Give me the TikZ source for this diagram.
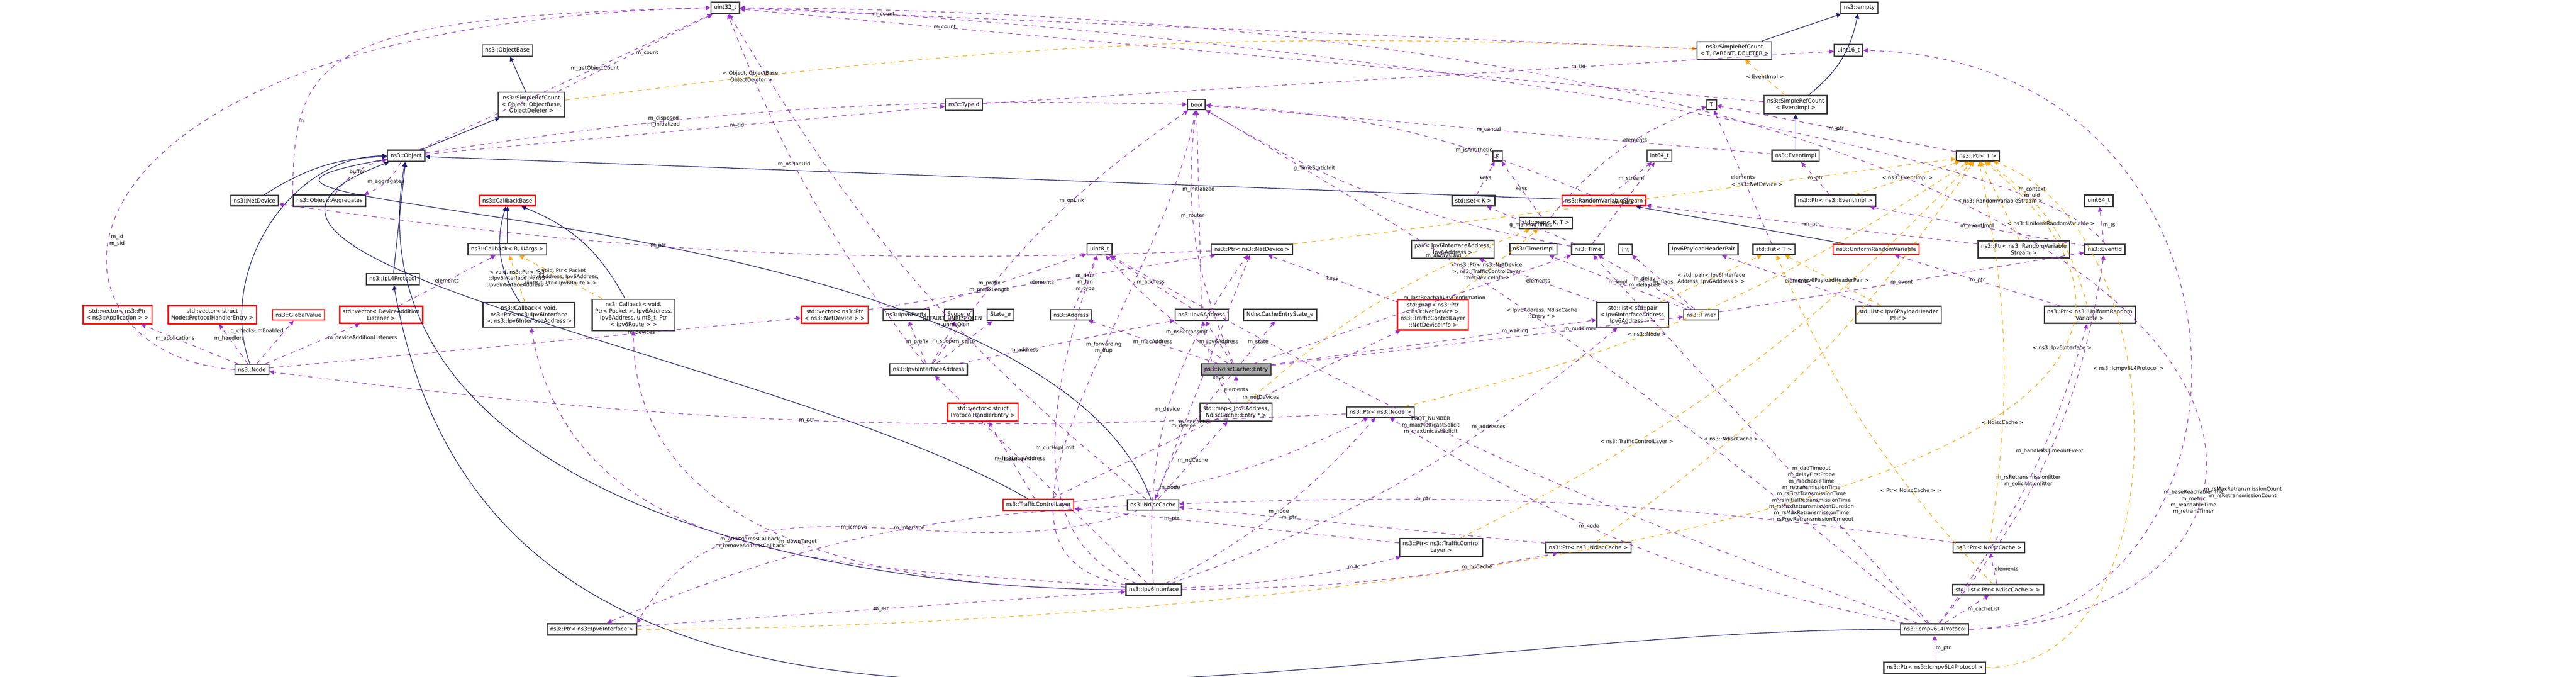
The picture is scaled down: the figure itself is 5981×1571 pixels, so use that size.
\documentclass[tikz,border=0pt]{standalone}
\usepackage{fontspec}
\setmainfont{DejaVu Sans}
\usetikzlibrary{arrows.meta, positioning}
\definecolor{inh}{HTML}{191970}
\definecolor{mem}{HTML}{9A32CD}
\definecolor{tpl}{HTML}{FFA500}
\definecolor{incomplete}{HTML}{FF0000}
\tikzset{
  cls/.style={draw=black!75, fill=white, thick, inner sep=2pt, align=center,
    font=\fontsize{3.6}{4.4}\selectfont},
  redcls/.style={cls, draw=incomplete},
  gray/.style={cls, fill=black!35},
  inherit/.style={draw=inh, thin, -{Triangle[length=3pt,width=3pt]}},
  member/.style={draw=mem, dashed, thin, -{Triangle[length=3pt,width=3pt]}},
  tmpl/.style={draw=tpl, dashed, thin, -{Triangle[length=3pt,width=3pt]}},
  lbl/.style={font=\fontsize{3.4}{4.2}\selectfont, text=black, align=center, inner sep=0.5pt}
}
\begin{document}
\begin{tikzpicture}[x=0.01cm, y=-0.01cm]
  \useasboundingbox (0,0) rectangle (5981,1571);
  % top rows
  \node[cls] (u32) at (1684,18) {uint32\_t};
  \node[cls] (empty) at (4317,18) {ns3::empty};
  \node[cls] (objbase) at (1178,117) {ns3::ObjectBase};
  \node[cls] (srctpd) at (4027,117) {ns3::SimpleRefCount\\ < T, PARENT, DELETER >};
  \node[cls] (u16) at (4292,117) {uint16\_t};
  \node[cls] (srcobj) at (1234,243) {ns3::SimpleRefCount\\ < Object, ObjectBase,\\ ObjectDeleter >};
  \node[cls] (typeid) at (2238,243) {ns3::TypeId};
  \node[cls] (boolt) at (2778,243) {bool};
  \node[cls] (tT) at (3974,243) {T};
  \node[cls] (srcev) at (4169,243) {ns3::SimpleRefCount\\ < EventImpl >};
  \node[cls] (obj) at (943,362) {ns3::Object};
  \node[cls] (tK) at (3477,362) {K};
  \node[cls] (i64) at (3853,362) {int64\_t};
  \node[cls] (evimpl) at (4169,362) {ns3::EventImpl};
  \node[cls] (ptrT) at (4592,362) {ns3::Ptr< T >};
  \node[cls] (netdev) at (591,466) {ns3::NetDevice};
  \node[cls] (aggr) at (765,466) {ns3::Object::Aggregates};
  \node[redcls] (cbbase) at (1178,466) {ns3::CallbackBase};
  \node[cls] (setK) at (3421,466) {std::set< K >};
  \node[redcls] (rvs) at (3724,466) {ns3::RandomVariableStream};
  \node[cls] (ptrev) at (4261,466) {ns3::Ptr< ns3::EventImpl >};
  \node[cls] (u64) at (4873,466) {uint64\_t};
  \node[cls] (mapKT) at (3589,518) {std::map< K, T >};
  \node[cls] (cbR) at (1178,579) {ns3::Callback< R, UArgs >};
  \node[cls] (u8) at (2553,579) {uint8\_t};
  \node[cls] (ptrnd) at (2907,579) {ns3::Ptr< ns3::NetDevice >};
  \node[cls] (pairia) at (3373,579) {pair< Ipv6InterfaceAddress,\\ Ipv6Address >};
  \node[cls] (timerimpl) at (3560,579) {ns3::TimerImpl};
  \node[cls] (timet) at (3687,579) {ns3::Time};
  \node[cls] (intn) at (3774,579) {int};
  \node[cls] (plhp) at (3955,579) {Ipv6PayloadHeaderPair};
  \node[cls] (listT) at (4119,579) {std::list< T >};
  \node[redcls] (urv) at (4356,579) {ns3::UniformRandomVariable};
  \node[cls] (ptrrvs) at (4699,579) {ns3::Ptr< ns3::RandomVariable\\ Stream >};
  \node[cls] (evid) at (4887,579) {ns3::EventId};
  \node[cls] (ipl4) at (912,648) {ns3::IpL4Protocol};
  % row of containers and enums
  \node[redcls] (vapp) at (273,731) {std::vector< ns3::Ptr\\ < ns3::Application > >};
  \node[redcls] (vphe) at (493,731) {std::vector< struct\\ Node::ProtocolHandlerEntry >};
  \node[redcls] (gval) at (693,731) {ns3::GlobalValue};
  \node[redcls] (vdal) at (885,731) {std::vector< DeviceAddition\\ Listener >};
  \node[cls] (cbif) at (1228,731) {ns3::Callback< void,\\ ns3::Ptr< ns3::Ipv6Interface\\ >, ns3::Ipv6InterfaceAddress >};
  \node[cls] (cbpk) at (1471,731) {ns3::Callback< void,\\ Ptr< Packet >, Ipv6Address,\\ Ipv6Address, uint8\_t, Ptr\\ < Ipv6Route > >};
  \node[redcls] (vnd) at (1938,731) {std::vector< ns3::Ptr\\ < ns3::NetDevice > >};
  \node[cls] (prefix) at (2104,731) {ns3::Ipv6Prefix};
  \node[cls] (scope) at (2226,731) {Scope\_e};
  \node[cls] (state) at (2323,731) {State\_e};
  \node[cls] (addr) at (2487,731) {ns3::Address};
  \node[cls] (ip6addr) at (2790,731) {ns3::Ipv6Address};
  \node[cls] (entstate) at (2972,731) {NdiscCacheEntryState\_e};
  \node[redcls] (mapnd) at (3327,731) {std::map< ns3::Ptr\\ < ns3::NetDevice >,\\ ns3::TrafficControlLayer\\ ::NetDeviceInfo >};
  \node[cls] (listpair) at (3791,731) {std::list< std::pair\\ < Ipv6InterfaceAddress,\\ Ipv6Address > >};
  \node[cls] (timer) at (3950,731) {ns3::Timer};
  \node[cls] (listplhp) at (4408,731) {std::list< Ipv6PayloadHeader\\ Pair >};
  \node[cls] (ptrurv) at (4852,731) {ns3::Ptr< ns3::UniformRandom\\ Variable >};
  % lower part
  \node[cls] (node) at (585,858) {ns3::Node};
  \node[cls] (ifaddr) at (2156,858) {ns3::Ipv6InterfaceAddress};
  \node[gray] (entry) at (2870,858) {ns3::NdiscCache::Entry};
  \node[redcls] (vphe2) at (2282,957) {std::vector< struct\\ ProtocolHandlerEntry >};
  \node[cls] (mapent) at (2870,957) {std::map< Ipv6Address,\\ NdiscCache::Entry * >};
  \node[cls] (ptrnode) at (3205,957) {ns3::Ptr< ns3::Node >};
  \node[redcls] (tcl) at (2411,1172) {ns3::TrafficControlLayer};
  \node[cls] (ndc) at (2677,1172) {ns3::NdiscCache};
  \node[cls] (ptrtcl) at (3346,1271) {ns3::Ptr< ns3::TrafficControl\\ Layer >};
  \node[cls] (ptrndc) at (3688,1271) {ns3::Ptr< ns3::NdiscCache >};
  \node[cls] (ptrndc2) at (4618,1271) {ns3::Ptr< NdiscCache >};
  \node[cls] (ipif) at (2679,1369) {ns3::Ipv6Interface};
  \node[cls] (listndc) at (4639,1369) {std::list< Ptr< NdiscCache > >};
  \node[cls] (ptrif) at (1374,1461) {ns3::Ptr< ns3::Ipv6Interface >};
  \node[cls] (icmp) at (4492,1461) {ns3::Icmpv6L4Protocol};
  \node[cls] (ptricmp) at (4492,1550) {ns3::Ptr< ns3::Icmpv6L4Protocol >};

  % inheritance
  \draw[inherit] (srcobj) -- (objbase);
  \draw[inherit] (obj) -- (srcobj);
  \draw[inherit] (netdev) to[bend left=15] (obj);
  \draw[inherit] (ipl4) -- (obj);
  \draw[inherit] (node) to[out=110, in=180] (obj);
  \draw[inherit] (tcl) to[out=150, in=200] (obj);
  \draw[inherit] (ndc) to[out=110, in=190] (obj);
  \draw[inherit] (ipif) to[out=180, in=260] (obj);
  \draw[inherit] (icmp) to[out=180, in=280] (ipl4);
  \draw[inherit] (rvs) -- (obj);
  \draw[inherit] (urv) -- (rvs);
  \draw[inherit] (srctpd) -- (empty);
  \draw[inherit] (srcev) to[bend right=20] (empty);
  \draw[inherit] (evimpl) -- (srcev);
  \draw[inherit] (cbR) -- (cbbase);
  \draw[inherit] (cbif) to[bend left=25] (cbbase);
  \draw[inherit] (cbpk) to[bend right=20] (cbbase);

  % template instances
  \draw[tmpl] (srcobj) to[bend left=5] node[lbl, pos=0.15] {< Object, ObjectBase,\\ ObjectDeleter >} (srctpd);
  \draw[tmpl] (srcev) -- node[lbl] {< EventImpl >} (srctpd);
  \draw[tmpl] (cbif) -- node[lbl] {< void, ns3::Ptr< ns3\\ ::Ipv6Interface >, ns3\\ ::Ipv6InterfaceAddress >} (cbR);
  \draw[tmpl] (cbpk) -- node[lbl] {< void, Ptr< Packet\\ >, Ipv6Address, Ipv6Address,\\ uint8\_t, Ptr< Ipv6Route > >} (cbR);
  \draw[tmpl] (ptrev) -- node[lbl] {< ns3::EventImpl >} (ptrT);
  \draw[tmpl] (ptrnd) -- node[lbl, pos=0.7] {< ns3::NetDevice >} (ptrT);
  \draw[tmpl] (ptrrvs) -- node[lbl] {< ns3::RandomVariableStream >} (ptrT);
  \draw[tmpl] (ptrurv) to[bend right=20] node[lbl] {< ns3::UniformRandomVariable >} (ptrT);
  \draw[tmpl] (ptrnode) to[bend right=10] node[lbl, pos=0.4] {< ns3::Node >} (ptrT);
  \draw[tmpl] (ptrtcl) to[bend right=10] node[lbl, pos=0.3] {< ns3::TrafficControlLayer >} (ptrT);
  \draw[tmpl] (ptrndc) to[bend right=10] node[lbl, pos=0.3] {< ns3::NdiscCache >} (ptrT);
  \draw[tmpl] (ptrndc2) to[bend right=10] node[lbl, pos=0.3] {< NdiscCache >} (ptrT);
  \draw[tmpl] (ptrif) to[out=0, in=-40] node[lbl, pos=0.8] {< ns3::Ipv6Interface >} (ptrT);
  \draw[tmpl] (ptricmp) to[out=0, in=-20] node[lbl, pos=0.6] {< ns3::Icmpv6L4Protocol >} (ptrT);
  \draw[tmpl] (mapnd) -- node[lbl, pos=0.4] {< ns3::Ptr< ns3::NetDevice\\ >, ns3::TrafficControlLayer\\ ::NetDeviceInfo >} (mapKT);
  \draw[tmpl] (mapent) to[bend left=10] (mapKT);
  \draw[tmpl] (listpair) -- node[lbl] {< std::pair< Ipv6Interface\\ Address, Ipv6Address > >} (listT);
  \draw[tmpl] (listplhp) -- node[lbl] {< Ipv6PayloadHeaderPair >} (listT);
  \draw[tmpl] (listndc) to[bend left=10] node[lbl, pos=0.3] {< Ptr< NdiscCache > >} (listT);
  \node[lbl] at (3580,728) {< Ipv6Address, NdiscCache\\ ::Entry * >};

  % members of Object and friends
  \draw[member] (srcobj) -- node[lbl, right] {m\_count} (u32);
  \draw[member] (obj) -- node[lbl, pos=0.6] {m\_getObjectCount} (u32);
  \draw[member] (obj) -- node[lbl, pos=0.6] {m\_tid} (typeid);
  \draw[member] (obj) to[bend left=5] node[lbl, pos=0.3] {m\_disposed\\ m\_initialized} (boolt);
  \draw[member] (obj) to[bend left=20] node[lbl] {m\_aggregates} (aggr);
  \draw[member] (aggr) to[bend left=20] node[lbl] {buffer} (obj);
  \draw[member] (aggr.north west) .. controls (680,120) and (760,40) .. node[lbl, pos=0.2, right] {n} (u32.west);
  \draw[member] (typeid) -- node[lbl, pos=0.7] {m\_tid} (u16);
  % members of Node
  \draw[member] (node.west) .. controls (40,820) and (40,60) .. node[lbl, pos=0.4, right] {m\_id\\ m\_sid} (u32.west);
  \draw[member] (node) -- node[lbl, pos=0.65] {m\_applications} (vapp);
  \draw[member] (node) -- node[lbl, pos=0.65] {m\_handlers} (vphe);
  \draw[member] (node) -- node[lbl, pos=0.75, left] {g\_checksumEnabled} (gval);
  \draw[member] (node) -- node[lbl, pos=0.65, right] {m\_deviceAdditionListeners} (vdal);
  \draw[member] (node) -- node[lbl, pos=0.7] {m\_devices} (vnd);
  \draw[member] (vdal) -- node[lbl] {elements} (cbR);
  \draw[member] (vnd) -- node[lbl] {elements} (ptrnd);
  \draw[member] (ptrnd) to[bend left=5] node[lbl, pos=0.6] {m\_ptr} (netdev);
  % Ipv6InterfaceAddress, addresses
  \draw[member] (ifaddr) -- node[lbl] {m\_prefix} (prefix);
  \draw[member] (ifaddr) -- node[lbl] {m\_scope} (scope);
  \draw[member] (ifaddr) -- node[lbl] {m\_state} (state);
  \draw[member] (ifaddr) -- node[lbl, pos=0.3] {m\_address} (ip6addr);
  \draw[member] (ifaddr) to[bend left=10] node[lbl, pos=0.6] {m\_onLink} (boolt);
  \draw[member] (ifaddr) to[bend left=8] node[lbl, pos=0.6] {m\_nsDadUid} (u32);
  \draw[member] (prefix) -- node[lbl, pos=0.4] {m\_prefix\\ m\_prefixLength} (u8);
  \draw[member] (addr) -- node[lbl] {m\_data\\ m\_len\\ m\_type} (u8);
  \draw[member] (ip6addr) -- node[lbl] {m\_address} (u8);
  \draw[member] (ip6addr) -- node[lbl, pos=0.6] {m\_initialized} (boolt);
  % NdiscCache and entries
  \draw[member] (entry) -- node[lbl] {m\_ipv6Address} (ip6addr);
  \draw[member] (entry) -- node[lbl] {m\_macAddress} (addr);
  \draw[member] (entry) -- node[lbl] {m\_state} (entstate);
  \draw[member] (entry) to[bend left=15] node[lbl, pos=0.6] {m\_router} (boolt);
  \draw[member] (entry) to[bend left=5] node[lbl, pos=0.3] {m\_nsRetransmit} (u8);
  \draw[member] (entry) -- node[lbl, pos=0.6] {m\_lastReachabilityConfirmation} (timet);
  \draw[member] (entry) -- node[lbl, pos=0.75] {m\_nudTimer} (timer);
  \draw[member] (entry) -- node[lbl, pos=0.75] {m\_waiting} (listpair);
  \draw[member] (entry) to[bend right=10] node[lbl, pos=0.4] {m\_ndCache} (ndc);
  \draw[member] (mapent) -- node[lbl] {elements} (entry);
  \draw[member] (mapent) to[bend left=10] node[lbl, pos=0.3] {keys} (ip6addr);
  \draw[member] (ndc) -- node[lbl] {m\_ndCache} (mapent);
  \draw[member] (ndc) -- node[lbl, pos=0.3] {m\_device} (ptrnd);
  \draw[member] (ndc) to[bend right=10] node[lbl, pos=0.4] {m\_interface} (ptrif);
  \draw[member] (ndc) to[bend left=10] node[lbl, pos=0.4] {DEFAULT\_UNRES\_QLEN\\ m\_unresQlen} (u32);
  \draw[member] (mapnd) -- node[lbl] {keys} (ptrnd);
  \draw[member] (tcl) -- node[lbl] {m\_handlers} (vphe2);
  \draw[member] (tcl) -- node[lbl, pos=0.6] {m\_netDevices} (mapnd);
  % Ipv6Interface
  \draw[member] (ipif) -- node[lbl, pos=0.6] {m\_linkLocalAddress} (ifaddr);
  \draw[member] (ipif) to[out=170, in=260] node[lbl, pos=0.6] {m\_forwarding\\ m\_ifup} (boolt);
  \draw[member] (ipif) to[out=160, in=250] node[lbl, pos=0.5] {m\_curHopLimit} (u8);
  \draw[member] (ipif) to[out=180, in=270] node[lbl, pos=0.5] {m\_downTarget} (cbpk);
  \draw[member] (ipif) to[out=175, in=280] node[lbl, pos=0.5] {m\_addAddressCallback\\ m\_removeAddressCallback} (cbif);
  \draw[member] (ipif) to[bend right=10] node[lbl, pos=0.5] {m\_node} (ptrnode);
  \draw[member] (ipif) to[bend left=20] node[lbl, pos=0.5] {m\_device} (ptrnd);
  \draw[member] (ipif) to[bend right=5] node[lbl, pos=0.8] {m\_tc} (ptrtcl);
  \draw[member] (ipif) to[bend right=5] node[lbl, pos=0.8] {m\_ndCache} (ptrndc);
  \draw[member] (ipif) to[bend right=10] node[lbl, pos=0.7] {m\_addresses} (listpair);
  \draw[member] (ptrif) -- node[lbl] {m\_ptr} (ipif);
  \draw[member] (ptrnode) to[bend left=5] node[lbl, pos=0.5] {m\_ptr} (node);
  \draw[member] (ptrtcl) -- node[lbl, pos=0.7] {m\_ptr} (tcl);
  \draw[member] (ptrndc) -- node[lbl, pos=0.7] {m\_ptr} (ndc);
  \draw[member] (ptrndc2) to[bend right=5] node[lbl, pos=0.7] {m\_ptr} (ndc);
  \draw[member] (ndc) to[out=200, in=60] node[lbl, pos=0.5] {m\_icmpv6} (ptrif.north east);
  \draw[member] (tcl) to[bend right=10] node[lbl, pos=0.3] {m\_node} (ptrnode);
  % Icmpv6L4Protocol
  \draw[member] (ptricmp) -- node[lbl, right] {m\_ptr} (icmp);
  \draw[member] (icmp) -- node[lbl, right] {m\_cacheList} (listndc);
  \draw[member] (listndc) -- node[lbl, right] {elements} (ptrndc2);
  \draw[member] (icmp) to[bend left=10] node[lbl, pos=0.6] {m\_node} (ptrnode);
  \draw[member] (icmp) to[bend left=5] node[lbl, pos=0.6] {PROT\_NUMBER\\ m\_maxMulticastSolicit\\ m\_maxUnicastSolicit} (u8);
  \draw[member] (icmp) -- node[lbl, pos=0.35] {m\_dadTimeout\\ m\_delayFirstProbe\\ m\_reachableTime\\ m\_retransmissionTime\\ m\_rsFirstTransmissionTime\\ m\_rsInitialRetransmissionTime\\ m\_rsMaxRetransmissionDuration\\ m\_rsMaxRetransmissionTime\\ m\_rsPrevRetransmissionTimeout} (timet);
  \draw[member] (icmp) to[bend right=5] node[lbl, pos=0.7] {m\_alwaysDad} (boolt);
  \draw[member] (icmp) to[bend right=10] node[lbl, pos=0.5] {m\_rsRetransmissionJitter\\ m\_solicitationJitter} (ptrurv);
  \draw[member] (icmp) to[bend right=15] node[lbl, pos=0.5] {m\_handleRsTimeoutEvent} (evid);
  \draw[member] (icmp.east) .. controls (5296,1440) and (5296,140) .. node[lbl, pos=0.3, right] {m\_baseReachableTime\\ m\_metric\\ m\_reachableTime\\ m\_retransTimer} (u16.east);
  \draw[member] (icmp.east) .. controls (5556,1440) and (5556,40) .. node[lbl, pos=0.3, right] {m\_rsMaxRetransmissionCount\\ m\_rsRetransmissionCount} (u32.east);
  % time, timer, events, random variables
  \draw[member] (timet) -- node[lbl] {m\_data} (i64);
  \draw[member] (timet) -- node[lbl] {g\_markingTimes} (setK);
  \draw[member] (timet) to[bend left=10] node[lbl, pos=0.7] {g\_TimeStaticInit} (boolt);
  \draw[member] (setK) -- node[lbl] {keys} (tK);
  \draw[member] (mapKT) -- node[lbl] {keys} (tK);
  \draw[member] (mapKT) to[bend left=15] node[lbl, pos=0.6] {elements} (tT);
  \draw[member] (listT) -- node[lbl] {elements} (tT);
  \draw[member] (ptrT) -- node[lbl] {m\_ptr} (tT);
  \draw[member] (rvs) -- node[lbl] {m\_stream} (i64);
  \draw[member] (rvs) to[bend right=10] node[lbl, pos=0.3] {m\_isAntithetic} (boolt);
  \draw[member] (ptrrvs) -- node[lbl] {m\_ptr} (rvs);
  \draw[member] (ptrurv) -- node[lbl] {m\_ptr} (urv);
  \draw[member] (timer) -- node[lbl] {m\_delay\\ m\_delayLeft} (timet);
  \draw[member] (timer) -- node[lbl] {m\_flags} (intn);
  \draw[member] (timer) -- node[lbl] {m\_impl} (timerimpl);
  \draw[member] (timer) -- node[lbl] {m\_event} (evid);
  \draw[member] (evid) -- node[lbl] {m\_eventImpl} (ptrev);
  \draw[member] (evid) -- node[lbl, right] {m\_ts} (u64);
  \draw[member] (evid.north) .. controls (4700,300) and (2600,40) .. node[lbl, pos=0.15, right] {m\_context\\ m\_uid} (u32.east);
  \draw[member] (ptrev) -- node[lbl] {m\_ptr} (evimpl);
  \draw[member] (evimpl) -- node[lbl] {m\_cancel} (boolt);
  \draw[member] (srcev) -- node[lbl, pos=0.8] {m\_count} (u32);
  \draw[member] (srctpd) -- node[lbl, pos=0.85] {m\_count} (u32);
  \draw[member] (listpair) -- node[lbl] {elements} (pairia);
  \draw[member] (listplhp) -- node[lbl] {elements} (plhp);
\end{tikzpicture}
\end{document}
